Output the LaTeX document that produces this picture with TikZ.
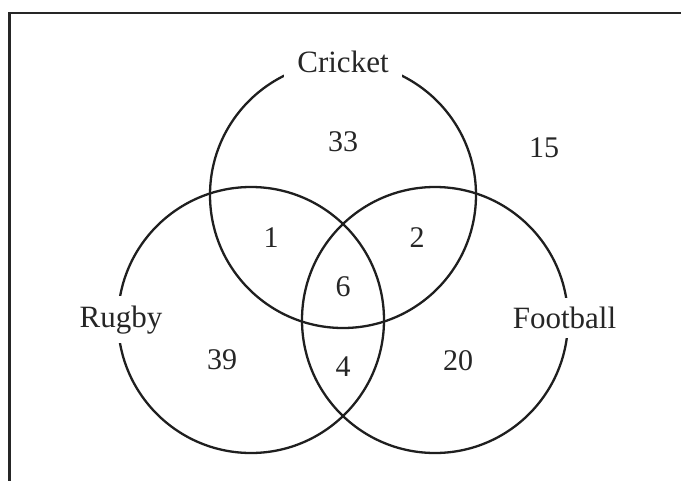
\documentclass[tikz,border=0pt]{standalone}
\usepackage{fontspec}
\setmainfont{Liberation Serif}
\begin{document}
\begin{tikzpicture}[x=1pt,y=-1pt,
  setcircle/.style={line width=2.3pt, draw=black!88},
  setlabel/.style={fill=white, inner xsep=13pt, inner ysep=9pt, anchor=base, font=\fontsize{31}{37}\selectfont, text=black!85},
  count/.style={inner sep=0pt, font=\fontsize{30}{36}\selectfont, text=black!85}]
\useasboundingbox (0,0) rectangle (681,480);
\clip (0,0) rectangle (681,480);
\draw[line width=2.7pt, draw=black!85] (9.5,500) -- (9.5,13) -- (700,13);
\coordinate (cC) at (343,195);
\coordinate (cR) at (251,320);
\coordinate (cF) at (435,320);
\draw[setcircle] (cC) circle[radius=133];
\draw[setcircle] (cR) circle[radius=133];
\draw[setcircle] (cF) circle[radius=133];
\node[setlabel] (lC) at (343,72) {Cricket};
\node[setlabel] (lR) at (121,327) {Rugby};
\node[setlabel] (lF) at (564.5,328.5) {Football};
\node[count] (n33) at (343,142) {33};
\node[count] (n15) at (544,148) {15};
\node[count] (n1) at (271,238) {1};
\node[count] (n2) at (417,238) {2};
\node[count] (n6) at (343,287) {6};
\node[count] (n39) at (222,360) {39};
\node[count] (n4) at (343,367) {4};
\node[count] (n20) at (458,361) {20};
\end{tikzpicture}
\end{document}
